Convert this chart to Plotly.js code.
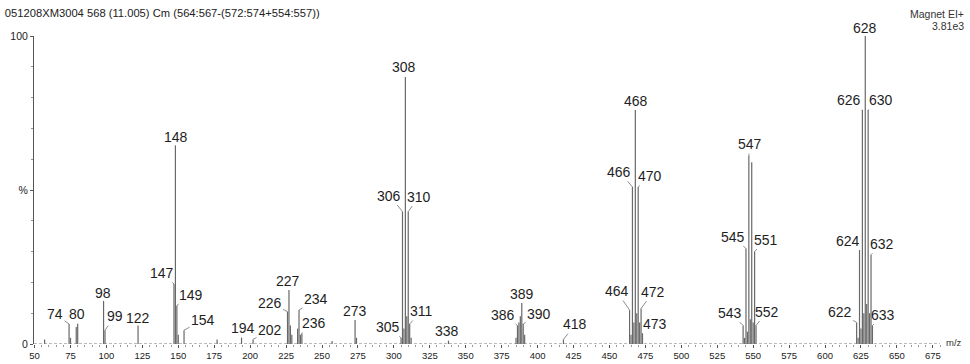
<!DOCTYPE html>
<html>
<head>
<meta charset="utf-8">
<script src="https://cdn.plot.ly/plotly-3.0.1.min.js"></script>
<style>
  html, body { margin: 0; padding: 0; background: #fff; }
  #chart { width: 970px; height: 364px; }
</style>
</head>
<body>
<div id="chart"></div>
<script>
// Centroided EI mass spectrum: m/z and relative intensity (% of base peak)
const peakMz = [
  57, 74, 75, 79, 80, 98, 99, 122, 147, 148, 149, 150, 154, 177, 194, 202,
  226, 227, 228, 229, 233, 234, 235, 236, 257, 273, 274,
  305, 306, 307, 308, 309, 310, 311, 312, 338,
  385, 386, 387, 388, 389, 390, 391, 418,
  464, 465, 466, 467, 468, 469, 470, 471, 472, 473,
  543, 544, 545, 546, 547, 548, 549, 550, 551, 552,
  622, 623, 624, 625, 626, 627, 628, 629, 630, 631, 632, 633
];
const peakIntensity = [
  1.5, 6.5, 2, 5.5, 6.5, 14, 4.5, 6, 19.5, 64.5, 12.5, 3, 4.5, 1.5, 2, 1.5,
  10.5, 17.5, 6, 3, 5, 11, 3, 3.5, 1, 7.8, 2,
  2, 43, 5, 86.7, 9, 43, 6.5, 2, 1,
  2, 6, 7, 9, 13.3, 6.5, 3, 1.5,
  11, 3, 51, 7, 76, 10, 51, 7, 11.5, 3.5,
  6, 2, 31, 4, 61, 8, 59, 7, 30, 6,
  7, 2, 30.5, 5, 76, 10, 100, 13, 76, 10, 29, 6
];

// Peaks that carry an m/z label
const labelledMz = [
  74, 80, 98, 99, 122, 147, 148, 149, 154, 194, 202,
  226, 227, 234, 236, 273, 305, 306, 308, 310, 311, 338,
  386, 389, 390, 418, 464, 466, 468, 470, 472, 473,
  543, 545, 547, 551, 552, 622, 624, 626, 628, 630, 632, 633
];
// Label placement relative to the peak apex, in screen pixels
const labelDx = [
  -14, -1, -1, 10, 0, -12, 1, 14, 19, 1, 17,
  -18, -1, 17, 12, 0, -13, -13, -1, 11, 12, -1,
  -14, 0, 16, 12, -13, -13, 1, 12, 12, 12,
  -13, -13, 1, 11, 11, -17, -12, -13, 0, 13, 11, 11
];
const labelDy = [
  -10, -10, -8, -14, -8, -11, -8, -11, -10, -10, -9,
  -9, -9, -11, -10, -9, -11, -16, -9.5, -15, -13, -10,
  -11, -9, -10, -15, -19, -15, -9, -11, -17, -9,
  -13, -12, -12, -12, -14, -10, -9, -10, -8, -10, -11, -11
];

const titleText = '051208XM3004 568 (11.005) Cm (564:567-(572:574+554:557))';
const ionModeText = 'Magnet EI+';
const basePeakText = '3.81e3';
const yTickValues = [0, 50, 100];
const yTickText = ['0', '%', '100'];

const FONT = 'Liberation Sans, Arial, Helvetica, sans-serif';

// One line segment per peak, from the baseline up to its intensity
const stickX = [], stickY = [];
peakMz.forEach((m, i) => {
  stickX.push(m, m, null);
  stickY.push(0, peakIntensity[i], null);
});

const peakLabels = labelledMz.map((m, i) => ({
  x: m,
  y: peakIntensity[peakMz.indexOf(m)],
  xref: 'x', yref: 'y',
  text: String(m),
  showarrow: true,
  arrowhead: 0,
  arrowwidth: 0.8,
  arrowcolor: '#6e6e6e',
  standoff: 0,
  ax: labelDx[i],
  ay: labelDy[i],
  font: { family: FONT, size: 14, color: '#1e1e1e' }
}));

const annotations = peakLabels.concat([
  { xref: 'paper', yref: 'paper', x: 1, y: 1, xanchor: 'right', yanchor: 'middle',
    xshift: 26, yshift: 22, showarrow: false, text: ionModeText,
    font: { family: FONT, size: 10.5, color: '#333' } },
  { xref: 'paper', yref: 'paper', x: 1, y: 1, xanchor: 'right', yanchor: 'middle',
    xshift: 26, yshift: 10, showarrow: false, text: basePeakText,
    font: { family: FONT, size: 10.5, color: '#333' } },
  { xref: 'paper', yref: 'y', x: 1, y: 0, xanchor: 'left', yanchor: 'middle',
    xshift: 4, yshift: 2, showarrow: false, text: 'm/z',
    font: { family: FONT, size: 9.5, color: '#333' } }
]);

const trace = {
  type: 'scatter',
  mode: 'lines',
  x: stickX,
  y: stickY,
  line: { color: '#686868', width: 1.2 },
  hoverinfo: 'skip',
  cliponaxis: false
};

const layout = {
  width: 970,
  height: 364,
  margin: { l: 34, r: 30, t: 36, b: 20 },
  paper_bgcolor: '#fff',
  plot_bgcolor: '#fff',
  showlegend: false,
  title: {
    text: titleText,
    xref: 'container', yref: 'container',
    x: 0.005, xanchor: 'left',
    y: 0.964, yanchor: 'middle',
    font: { family: FONT, size: 11.2, color: '#222' }
  },
  xaxis: {
    range: [49.6, 680],
    tick0: 0,
    dtick: 25,
    ticks: 'outside',
    ticklen: 3,
    tickwidth: 1,
    tickcolor: '#555',
    minor: { tick0: 0, dtick: 5, ticks: 'outside', ticklen: 2, tickcolor: '#999', tickwidth: 1 },
    showline: false,
    showgrid: false,
    zeroline: false,
    tickfont: { family: FONT, size: 9.5, color: '#222' },
    fixedrange: true
  },
  yaxis: {
    range: [0, 100],
    tickmode: 'array',
    tickvals: yTickValues,
    ticktext: yTickText,
    ticks: 'outside',
    ticklen: 3,
    tickcolor: '#555',
    minor: { dtick: 10, ticks: 'outside', ticklen: 2, tickcolor: '#999' },
    showline: true,
    linecolor: '#555',
    linewidth: 1,
    showgrid: false,
    zeroline: false,
    tickfont: { family: FONT, size: 10.5, color: '#222' },
    fixedrange: true
  },
  shapes: [
    { type: 'line', xref: 'paper', yref: 'y', x0: 0, x1: 1, y0: 0, y1: 0,
      line: { color: '#777', width: 1, dash: '3px,2px' } }
  ],
  annotations: annotations
};

Plotly.newPlot('chart', [trace], layout, { displayModeBar: false, staticPlot: true });
</script>
</body>
</html>
